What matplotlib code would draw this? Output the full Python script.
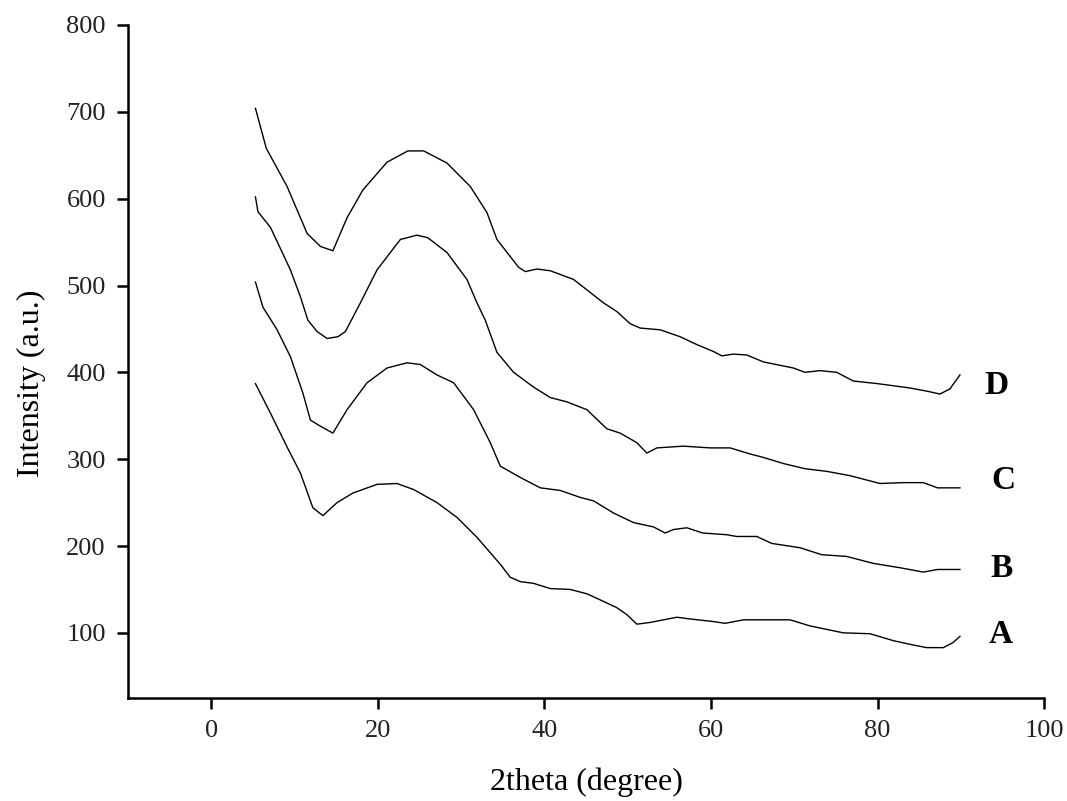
import numpy as np
import matplotlib.pyplot as plt

# curves (2theta in degree, intensity in a.u.)
x_a = [5.3, 7.1, 9.1, 10.7, 12.2, 13.4, 15.1, 17.0, 19.9, 22.3, 24.3, 27.1, 29.5, 31.9,
       34.7, 35.9, 37.1, 38.7, 40.7, 43.1, 45.1, 46.7, 48.7, 49.9, 51.1, 52.7, 55.9, 57.5,
       60.3, 61.7, 63.9, 65.9, 68.3, 69.5, 71.9, 73.9, 75.9, 79.1, 81.9, 84.3, 85.9, 87.9,
       89.1, 89.9]
y_a = [387, 353, 314, 284, 244, 235, 250, 261, 271, 272, 265, 250, 233, 210,
       179, 164, 159, 157, 151, 150, 145, 138, 129, 121, 110, 112, 118, 116,
       113, 111, 115, 115, 115, 115, 108, 104, 100, 99, 91, 86, 83, 83,
       89, 96]

x_b = [5.3, 6.2, 7.9, 9.5, 11.0, 11.9, 13.1, 14.6, 16.3, 18.7, 21.1, 23.5, 25.1, 27.1,
       29.1, 31.5, 33.5, 34.7, 37.1, 39.5, 41.9, 44.3, 45.9, 48.3, 50.7, 53.1, 54.5, 55.5,
       57.1, 59.0, 61.9, 63.1, 65.5, 67.3, 70.7, 73.3, 76.3, 79.5, 82.7, 85.5, 87.2, 89.9]
y_b = [504, 475, 449, 418, 376, 345, 338, 330, 357, 388, 405, 411, 409, 397,
       388, 357, 319, 292, 279, 267, 264, 256, 252, 238, 227, 222, 215, 219,
       221, 215, 213, 211, 211, 203, 198, 190, 188, 180, 175, 170, 173, 173]

x_c = [5.3, 5.6, 7.1, 9.5, 10.7, 11.6, 12.7, 13.9, 15.2, 16.1, 17.9, 19.9, 22.7, 24.7,
       26.0, 28.3, 30.7, 31.9, 32.9, 34.3, 36.3, 38.7, 40.7, 42.7, 45.1, 47.5, 49.1, 51.1,
       52.3, 53.5, 56.7, 59.9, 62.3, 64.7, 66.3, 68.7, 71.3, 73.9, 76.7, 80.3, 83.1, 85.5,
       87.2, 89.9]
y_c = [602, 585, 567, 518, 487, 460, 447, 439, 441, 447, 480, 518, 553, 558,
       555, 538, 507, 480, 460, 423, 400, 383, 371, 366, 357, 335, 330, 319,
       307, 313, 315, 313, 313, 306, 302, 295, 289, 286, 281, 272, 273, 273,
       267, 267]

x_d = [5.3, 6.6, 9.1, 11.5, 13.1, 14.6, 16.3, 18.2, 21.1, 23.6, 25.5, 28.3, 31.1, 33.1,
       34.3, 36.9, 37.7, 39.1, 40.7, 43.5, 46.3, 47.1, 48.7, 50.3, 51.5, 53.9, 56.3, 58.3,
       60.3, 61.3, 62.7, 64.3, 66.3, 69.9, 71.3, 73.1, 75.1, 77.1, 80.0, 83.9, 86.1, 87.5,
       88.7, 89.9]
y_d = [704, 658, 614, 560, 545, 540, 578, 610, 642, 655, 655, 641, 614, 584,
       553, 521, 516, 519, 517, 507, 486, 480, 470, 456, 451, 449, 441, 432,
       424, 419, 421, 420, 412, 405, 400, 402, 400, 390, 387, 382, 378, 375,
       381, 397]

labels = ['A', 'B', 'C', 'D']
label_x = [93.3, 93.6, 93.7, 92.9]
label_y = [98, 174, 276, 385]

plt.rcParams['font.family'] = ['Liberation Serif', 'DejaVu Serif']

fig = plt.figure(figsize=(10.67, 8.01), dpi=100)
ax = fig.add_axes([0.12, 0.1286, 0.8585, 0.8402])

for xs, ys in [(x_a, y_a), (x_b, y_b), (x_c, y_c), (x_d, y_d)]:
    ax.plot(xs, ys, color='black', lw=1.0)

for lab, lx, ly in zip(labels, label_x, label_y):
    ax.text(lx, ly, lab, fontsize=24, fontweight='bold', ha='left', va='center')

ax.set_xlim(-10, 100)
ax.set_ylim(25, 800)
ax.set_xticks(np.arange(0, 101, 20))
ax.set_yticks(np.arange(100, 801, 100))

for side in ['top', 'right']:
    ax.spines[side].set_visible(False)
for side in ['left', 'bottom']:
    ax.spines[side].set_linewidth(1.8)
ax.tick_params(direction='out', length=8, width=1.8, labelsize=19, pad=8,
               labelcolor='#222222')

ax.set_xlabel('2theta (degree)', fontsize=23)
ax.set_ylabel('Intensity (a.u.)', fontsize=23)
ax.xaxis.set_label_coords(0.5, -0.104)
ax.yaxis.set_label_coords(-0.09, 0.467)

fig.savefig('out.png', dpi=100)
